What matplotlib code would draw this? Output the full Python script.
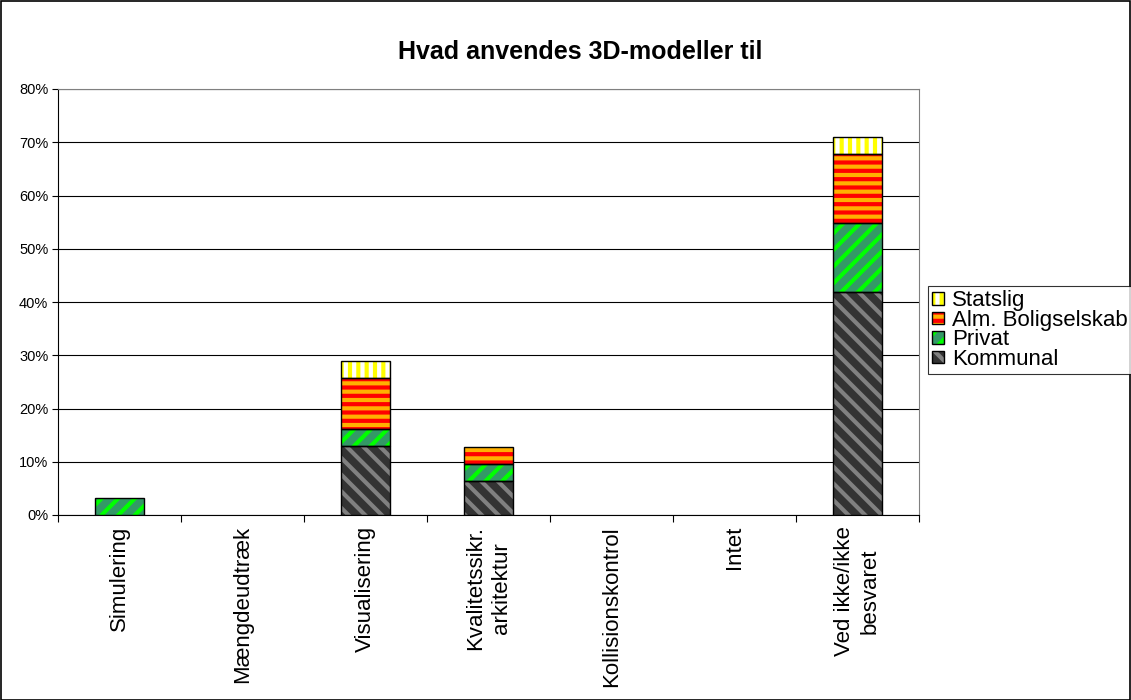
import matplotlib
matplotlib.use("Agg")
import matplotlib.pyplot as plt
import numpy as np
from matplotlib.patches import Rectangle, Patch

plt.rcParams['font.family'] = ['Liberation Sans', 'DejaVu Sans']
plt.rcParams['hatch.linewidth'] = 3.0

categories = ["Simulering", "Mængdeudtræk", "Visualisering", "Kvalitetssikr.\narkitektur",
              "Kollisionskontrol", "Intet", "Ved ikke/ikke\nbesvaret"]
kommunal = [0.0, 0.0, 12.9, 6.45, 0.0, 0.0, 41.9]
privat = [3.2, 0.0, 3.2, 3.2, 0.0, 0.0, 12.9]
alm = [0.0, 0.0, 9.7, 3.2, 0.0, 0.0, 12.9]
statslig = [0.0, 0.0, 3.2, 0.0, 0.0, 0.0, 3.3]
yticks = [0, 10, 20, 30, 40, 50, 60, 70, 80]

series = [
    ("Kommunal", kommunal, "#333333", "#808080", "\\\\"),
    ("Privat", privat, "#339966", "#00ff00", "//"),
    ("Alm. Boligselskab", alm, "#ffb000", "#ff0000", "--"),
    ("Statslig", statslig, "#ffff00", "#ffffff", "||"),
]

W, H = 1131, 700
fig = plt.figure(figsize=(W / 100, H / 100), dpi=100)
ax = fig.add_axes([58 / W, (H - 515) / H, (919 - 58) / W, (515 - 89) / H])

x = np.arange(len(categories))
bottom = np.zeros(len(categories))
handles = []
for name, vals, fc, hc, hatch in series:
    vals = np.array(vals)
    ax.bar(x, vals, 0.4, bottom=bottom, color=fc, edgecolor=hc, hatch=hatch,
           linewidth=0, zorder=3)
    mask = vals > 0
    ax.bar(x[mask], vals[mask], 0.4, bottom=bottom[mask], fill=False,
           edgecolor="black", linewidth=1.0, zorder=4)
    bottom = bottom + vals
    handles.append((Patch(facecolor=fc, edgecolor=hc, hatch=hatch, linewidth=0),
                    Patch(fill=False, edgecolor="black", linewidth=1.0)))

ax.set_xlim(-0.5, len(categories) - 0.5)
ax.set_ylim(0, 80)
ax.set_yticks(yticks)
ax.set_yticklabels([f"{v}%" for v in yticks], fontsize=10.5)
ax.set_xticks(np.arange(len(categories) + 1) - 0.5, minor=False)
ax.set_xticklabels([""] * (len(categories) + 1))
ax.set_xticks(x, minor=True)
ax.set_xticklabels(categories, minor=True, rotation=90, fontsize=16, ha="center", va="top",
                   multialignment="center", linespacing=1.25)
ax.tick_params(axis="x", which="minor", length=0, pad=8)
ax.tick_params(axis="x", which="major", length=5, direction="out")
ax.tick_params(axis="y", length=4, direction="out", pad=3)
ax.yaxis.grid(True, color="black", linewidth=0.8, zorder=0)
ax.set_axisbelow(True)
for s in ["top", "right"]:
    ax.spines[s].set_color("#808080")
for s in ["left", "bottom"]:
    ax.spines[s].set_color("black")

fig.text(580 / W, 1 - 52 / H, "Hvad anvendes 3D-modeller til", ha="center", va="center",
         fontsize=18, fontweight="bold")

leg_handles = handles[::-1]
leg_labels = [s[0] for s in series][::-1]
leg = fig.legend(leg_handles, leg_labels, loc="upper left", bbox_to_anchor=(928 / W, 1 - 286 / H),
                 fontsize=16, frameon=True, fancybox=False, edgecolor="black",
                 handlelength=0.5, handleheight=0.5, handletextpad=0.4, labelspacing=-0.07,
                 borderpad=0.2, borderaxespad=0)
leg.get_frame().set_linewidth(0.8)

fig.add_artist(Rectangle((0.5 / W, 0.5 / H), 1 - 1.5 / W, 1 - 1.5 / H, transform=fig.transFigure,
                         fill=False, edgecolor="black", linewidth=1.2))

fig.savefig("out.png", dpi=100)
